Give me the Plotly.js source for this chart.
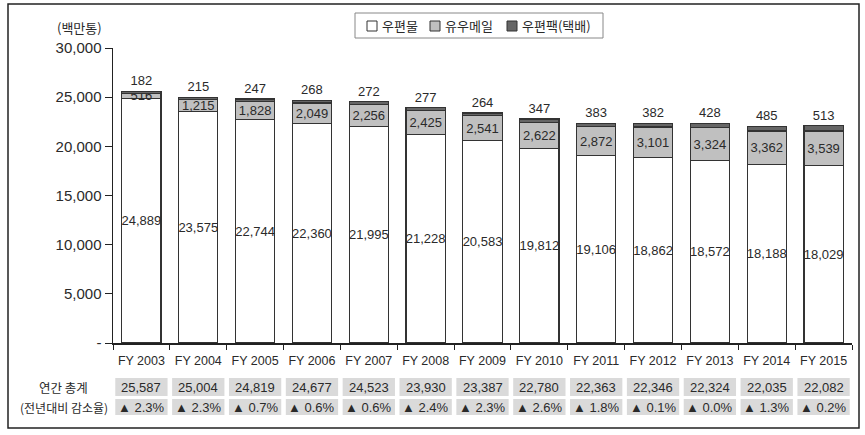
<!DOCTYPE html>
<html>
<head>
<meta charset="utf-8">
<script src="https://cdn.plot.ly/plotly-3.0.1.min.js"></script>
<style>
  body { margin: 0; background: #fff; }
  #chart { width: 865px; height: 435px; }
</style>
</head>
<body>
<div id="chart"></div>
<script>
const years = ['FY 2003', 'FY 2004', 'FY 2005', 'FY 2006', 'FY 2007', 'FY 2008', 'FY 2009',
               'FY 2010', 'FY 2011', 'FY 2012', 'FY 2013', 'FY 2014', 'FY 2015'];
const postal = [24889, 23575, 22744, 22360, 21995, 21228, 20583, 19812, 19106, 18862, 18572, 18188, 18029];
const yuMail = [516, 1215, 1828, 2049, 2256, 2425, 2541, 2622, 2872, 3101, 3324, 3362, 3539];
const yuPack = [182, 215, 247, 268, 272, 277, 264, 347, 383, 382, 428, 485, 513];
const totals = [25587, 25004, 24819, 24677, 24523, 23930, 23387, 22780, 22363, 22346, 22324, 22035, 22082];
const declineRate = [2.3, 2.3, 0.7, 0.6, 0.6, 2.4, 2.3, 2.6, 1.8, 0.1, 0.0, 1.3, 0.2];
const yTickVals = [0, 5000, 10000, 15000, 20000, 25000, 30000];
const yTickText = ['-', '5,000', '10,000', '15,000', '20,000', '25,000', '30,000'];
const seriesNames = ['우편물', '유우메일', '우편팩(택배)'];

const W = 865, H = 435;
const M = {l: 113, r: 13, t: 48, b: 92};
const pw = W - M.l - M.r, ph = H - M.t - M.b;
// pixel -> paper coords
const px = x => (x - M.l) / pw;
const py = y => (H - M.b - y) / ph;

const fontFam = "'Liberation Sans', 'Noto Sans CJK KR', sans-serif";
const korFam = "'Noto Sans CJK KR', sans-serif";
const lineCol = '#333';
const textCol = '#2a2a2a';
const colors = ['#ffffff', '#c0c0c0', '#666666'];

function barTrace(vals, i, textpos) {
    return {
        x: years,
        y: vals,
        name: seriesNames[i],
        type: 'bar',
        marker: {color: colors[i], line: {color: lineCol, width: 1.2}},
        texttemplate: '%{y:,.0f}',
        textposition: textpos,
        insidetextanchor: 'middle',
        constraintext: 'none',
        textangle: 0,
        textfont: {size: 13, color: textCol, family: fontFam},
        cliponaxis: false,
        hoverinfo: 'x+y+name',
        showlegend: false
    };
}

const traces = [
    barTrace(postal, 0, 'inside'),
    barTrace(yuMail, 1, 'inside'),
    barTrace(yuPack, 2, 'outside')
];

const shapes = [];
const annotations = [];

// outer frame
shapes.push({type: 'rect', xref: 'paper', yref: 'paper',
    x0: px(8), x1: px(859), y0: py(428), y1: py(4),
    line: {color: '#222', width: 1.5}, fillcolor: 'rgba(0,0,0,0)', layer: 'below'});

// legend box (drawn by hand to match the compact layout)
shapes.push({type: 'rect', xref: 'paper', yref: 'paper',
    x0: px(355), x1: px(603), y0: py(38), y1: py(13),
    line: {color: '#888', width: 1}, fillcolor: '#fff'});
const legX = [367, 430, 507];
seriesNames.forEach((nm, i) => {
    shapes.push({type: 'rect', xref: 'paper', yref: 'paper',
        x0: px(legX[i]), x1: px(legX[i] + 10), y0: py(31), y1: py(21),
        line: {color: lineCol, width: 1}, fillcolor: colors[i]});
    annotations.push({xref: 'paper', yref: 'paper', x: px(legX[i] + 13), y: py(25.5),
        text: nm, showarrow: false, xanchor: 'left', yanchor: 'middle',
        font: {size: 13, color: textCol, family: korFam}});
});

// unit label
annotations.push({xref: 'paper', yref: 'paper', x: px(79), y: py(27),
    text: '(백만통)', showarrow: false, xanchor: 'center', yanchor: 'middle',
    font: {size: 13, color: textCol, family: korFam}});

// summary table below the axis
const rowTop = [378, 399], rowBot = [396, 415];
years.forEach((yr, i) => {
    for (let r = 0; r < 2; r++) {
        shapes.push({type: 'rect', xref: 'x', yref: 'paper',
            x0: i - 0.46, x1: i + 0.46, y0: py(rowBot[r]), y1: py(rowTop[r]),
            line: {width: 0}, fillcolor: '#dadada'});
    }
    annotations.push({xref: 'x', yref: 'paper', x: yr, y: py(387),
        text: totals[i].toLocaleString('en-US'), showarrow: false,
        xanchor: 'center', yanchor: 'middle',
        font: {size: 13, color: textCol, family: fontFam}});
    annotations.push({xref: 'x', yref: 'paper', x: yr, y: py(407),
        text: '▲ ' + declineRate[i].toFixed(1) + '%', showarrow: false,
        xanchor: 'center', yanchor: 'middle',
        font: {size: 13, color: textCol, family: fontFam}});
});
annotations.push({xref: 'paper', yref: 'paper', x: px(64), y: py(387),
    text: '연간 총계', showarrow: false, xanchor: 'center', yanchor: 'middle',
    font: {size: 12.5, color: textCol, family: korFam}});
annotations.push({xref: 'paper', yref: 'paper', x: px(64), y: py(407),
    text: '(전년대비 감소율)', showarrow: false, xanchor: 'center', yanchor: 'middle',
    font: {size: 12, color: textCol, family: korFam}});

const layout = {
    width: W,
    height: H,
    margin: M,
    barmode: 'stack',
    bargap: 0.31,
    showlegend: false,
    paper_bgcolor: '#fff',
    plot_bgcolor: '#fff',
    font: {family: fontFam, color: textCol},
    xaxis: {
        type: 'category',
        showline: true, linecolor: '#222', linewidth: 1.5,
        ticks: 'outside', tickson: 'boundaries', ticklen: 5, tickcolor: '#222',
        tickangle: 0,
        ticklabelstandoff: 5,
        tickfont: {size: 12.5, color: textCol},
        showgrid: false, zeroline: false, fixedrange: true
    },
    yaxis: {
        range: [0, 30000],
        tickvals: yTickVals, ticktext: yTickText,
        showline: true, linecolor: '#222', linewidth: 1.5,
        ticks: 'outside', ticklen: 7, tickcolor: '#222',
        tickfont: {size: 15, color: textCol},
        showgrid: false, zeroline: false, fixedrange: true
    },
    shapes: shapes,
    annotations: annotations
};

Plotly.newPlot('chart', traces, layout, {displayModeBar: false, staticPlot: true});
</script>
</body>
</html>
